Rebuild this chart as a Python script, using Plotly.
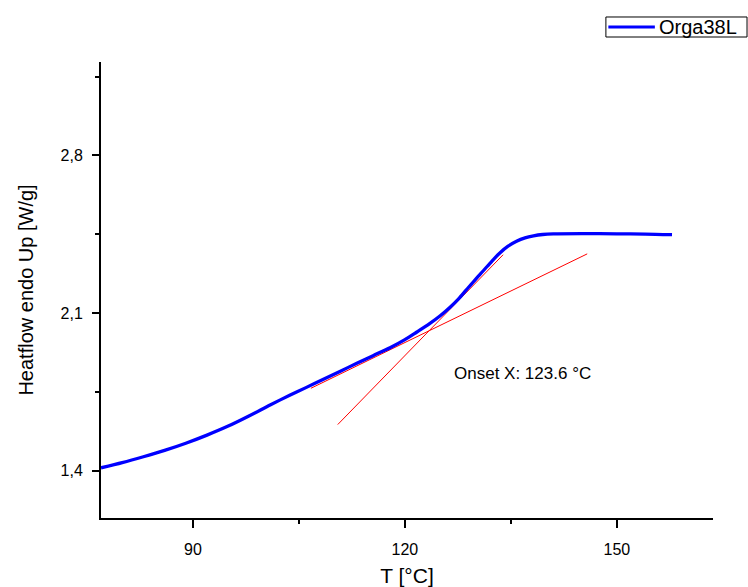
import plotly.graph_objects as go

# Measured DSC curve
temperature = [77.0, 80.0, 83.0, 86.0, 89.0, 92.0, 95.0, 98.0, 101.0, 103.7, 106.0, 108.4,
               110.8, 113.2, 115.5, 117.9, 120.0, 121.7, 123.5, 125.0, 126.4, 127.6, 128.7,
               130.0, 131.1, 132.3, 133.4, 134.6, 135.8, 137.0, 138.2, 139.5, 141.0, 145.0,
               150.0, 154.0, 157.8]
heatflow = [1.413, 1.436, 1.462, 1.490, 1.522, 1.558, 1.598, 1.644, 1.693, 1.735, 1.769, 1.805,
            1.841, 1.877, 1.911, 1.946, 1.982, 2.016, 2.053, 2.088, 2.126, 2.163, 2.203,
            2.250, 2.288, 2.330, 2.366, 2.397, 2.419, 2.434, 2.443, 2.449, 2.452, 2.453,
            2.452, 2.451, 2.448]

# Onset tangent lines
baseline_t = [106.7, 145.8]
baseline_v = [1.766, 2.363]
slope_t = [110.5, 133.9]
slope_v = [1.605, 2.359]

onset_label = "Onset X: 123.6 °C"
onset_pos = (136.6, 1.833)

series_name = "Orga38L"

FONT = "Arial, Liberation Sans, sans-serif"

fig = go.Figure()
fig.add_trace(go.Scatter(x=baseline_t, y=baseline_v, mode="lines",
                         line=dict(color="red", width=1), showlegend=False, hoverinfo="skip"))
fig.add_trace(go.Scatter(x=slope_t, y=slope_v, mode="lines",
                         line=dict(color="red", width=1), showlegend=False, hoverinfo="skip"))
fig.add_trace(go.Scatter(x=temperature, y=heatflow, mode="lines", name=series_name,
                         showlegend=False,
                         line=dict(color="#0000ff", width=3.3, shape="spline", smoothing=0.8)))

fig.add_annotation(x=onset_pos[0], y=onset_pos[1], text=onset_label, showarrow=False,
                   font=dict(family=FONT, size=17, color="black"))

# Legend box (drawn in paper coordinates)
fig.add_shape(type="rect", xref="paper", yref="paper", x0=0.825, x1=1.0556, y0=1.0548, y1=1.0987,
              line=dict(color="black", width=1), fillcolor="white")
fig.add_shape(type="line", xref="paper", yref="paper", x0=0.829, x1=0.905, y0=1.0768, y1=1.0768,
              line=dict(color="#0000ff", width=3))
fig.add_annotation(xref="paper", yref="paper", x=0.909, y=1.0768, xanchor="left", yanchor="middle",
                   text=series_name, showarrow=False,
                   font=dict(family=FONT, size=20, color="black"))

fig.update_layout(
    width=748, height=587,
    margin=dict(l=101, r=35, t=62, b=69),
    paper_bgcolor="white", plot_bgcolor="white",
    font=dict(family=FONT, color="black"),
    separators=",.",
    showlegend=False,
    xaxis=dict(range=[77, 163.6], tickmode="array", tickvals=[90, 120, 150],
               automargin=False,
               showline=True, linecolor="black", linewidth=2, mirror=False,
               ticks="outside", ticklen=8, tickwidth=1.5, tickcolor="black",
               ticklabelstandoff=8,
               minor=dict(tickvals=[105, 135], ticks="outside", ticklen=4, tickwidth=1.5, tickcolor="black"),
               showgrid=False, zeroline=False,
               tickfont=dict(size=16, family=FONT),
               title=dict(text="T [°C]", font=dict(size=21, family=FONT), standoff=12)),
    yaxis=dict(range=[1.19, 3.215], tickmode="array", tickvals=[1.4, 2.1, 2.8], tickformat=".1f",
               automargin=False,
               showline=True, linecolor="black", linewidth=2, mirror=False,
               ticks="outside", ticklen=7, tickwidth=1.5, tickcolor="black",
               ticklabelstandoff=6,
               minor=dict(tickvals=[1.75, 2.45, 3.15], ticks="outside", ticklen=4, tickwidth=1.5, tickcolor="black"),
               showgrid=False, zeroline=False,
               tickfont=dict(size=16, family=FONT),
               title=dict(text="Heatflow endo Up [W/g]", font=dict(size=20, family=FONT), standoff=22)),
)

fig.write_html("out.html", config={"displayModeBar": False},
               post_script="document.body.style.margin='0';document.body.style.padding='0';")
